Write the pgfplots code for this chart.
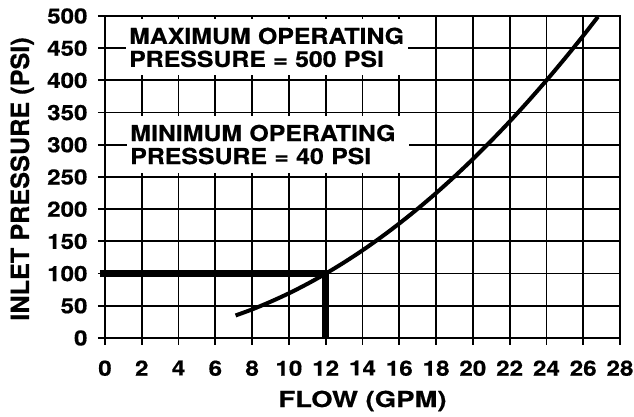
\documentclass[border=0pt]{standalone}
\usepackage{fontspec}
\setmainfont{TeX Gyre Heros}[FakeStretch=1.15, FakeBold=0.5]
\newfontfamily\boxfont{TeX Gyre Heros}[FakeStretch=1.13, FakeBold=0.5]
\newfontfamily\xlabfont{TeX Gyre Heros}[FakeStretch=1.25, FakeBold=0.5]
\newfontfamily\ylabfont{TeX Gyre Heros}[FakeStretch=1.01, FakeBold=0.5]
\usepackage{pgfplots}
\pgfplotsset{compat=1.18}
\begin{document}
\begin{tikzpicture}
\useasboundingbox (0,0) rectangle (634bp,417bp);
\begin{axis}[
  at={(105bp,79bp)}, anchor=south west,
  scale only axis, width=515bp, height=322bp,
  xmin=0, xmax=28, ymin=0, ymax=500,
  xtick={0,2,...,28}, ytick={0,50,...,500},
  grid=major,
  major grid style={black, line width=1.8bp},
  axis line style={black, line width=1.8bp},
  tick style={black, line width=1.8bp},
  tick align=outside, major tick length=7bp,
  xtick pos=bottom, ytick pos=left,
  /pgf/number format/assume math mode=true,
  ticklabel style={font=\fontsize{21bp}{21bp}\selectfont\bfseries},
  xticklabel style={yshift=-12bp},
  yticklabel style={xshift=-7bp},
  xlabel={FLOW (GPM)},
  ylabel={INLET PRESSURE (PSI)},
  xlabel style={font=\fontsize{22bp}{22bp}\selectfont\xlabfont\bfseries,
    at={(axis description cs:0.5,0)}, anchor=base, yshift=-69bp},
  ylabel style={font=\fontsize{25bp}{25bp}\selectfont\ylabfont\bfseries,
    at={(axis description cs:-0.1476,0.494)}, anchor=base},
  clip=false,
]
\addplot[black, line width=4bp, smooth, line cap=butt] coordinates {
 (7.1,35) (8,44.4) (9,56.3) (10,69.4) (11,84) (12,100) (13,117.4)
 (14,136.1) (15,156.3) (16,177.8) (17,200.7) (18,225) (19,250.7)
 (20,277.8) (21,306.3) (22,336.1) (23,367.4) (24,400) (25,434)
 (26,469.4) (26.8,498.8)};
\addplot[black, line width=7bp, line join=miter, line cap=butt] coordinates {
 (-0.28,100) (12,100) (12,0)};
\node[fill=white, anchor=north west, inner xsep=3bp, inner ysep=0pt,
  text width=276bp, minimum height=56bp, align=left,
  font=\fontsize{22bp}{23bp}\selectfont\boxfont\bfseries]
  at (axis cs:1.14,495) {MAXIMUM OPERATING\\PRESSURE = 500 PSI};
\node[fill=white, anchor=north west, inner xsep=3bp, inner ysep=0pt,
  text width=276bp, minimum height=57bp, align=left,
  font=\fontsize{22bp}{23bp}\selectfont\boxfont\bfseries]
  at (axis cs:1.2,345) {MINIMUM OPERATING\\PRESSURE = 40 PSI};
\end{axis}
\end{tikzpicture}
\end{document}
